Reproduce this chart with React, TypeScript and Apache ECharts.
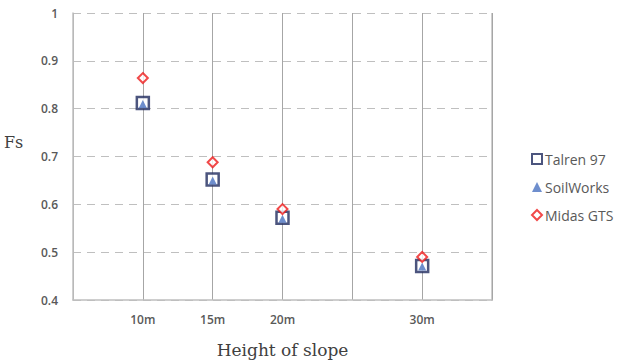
import React, { useEffect, useRef } from "react";
import * as echarts from "echarts";

const heights = [10, 15, 20, 30];
const talren = [0.812, 0.652, 0.572, 0.471];
const soilworks = [0.81, 0.65, 0.57, 0.47];
const midas = [0.864, 0.688, 0.59, 0.49];
const seriesNames = ["Talren 97", "SoilWorks", "Midas GTS"];

export default function App() {
  const ref = useRef<HTMLDivElement>(null);
  useEffect(() => {
    if (!ref.current) return;
    const chart = echarts.init(ref.current, null, { renderer: "svg" });
    const pts = (vals: number[]) => heights.map((h, i) => [h, vals[i]]);
    chart.setOption({
      animation: false,
      grid: { left: 73, right: 126, top: 13, bottom: 62 },
      xAxis: {
        type: "value",
        min: 5,
        max: 35,
        interval: 5,
        axisLine: { show: true, lineStyle: { color: "#bfbfbf", width: 1.5 } },
        axisTick: { show: false },
        splitLine: { show: true, lineStyle: { color: "#a6a6a6", type: "solid", width: 1 } },
        axisLabel: {
          formatter: (v: number) => (heights.includes(v) ? v + "m" : ""),
          color: "#595959",
          fontFamily: "Open Sans",
          fontWeight: 600,
          fontSize: 12,
          margin: 13,
        },
        name: "Height of slope",
        nameLocation: "middle",
        nameGap: 41,
        nameTextStyle: { fontFamily: "DejaVu Serif", fontSize: 17, color: "#404040" },
      },
      yAxis: {
        type: "value",
        min: 0.4,
        max: 1,
        interval: 0.1,
        axisLine: { show: true, lineStyle: { color: "#bfbfbf", width: 1.5 } },
        axisTick: { show: false },
        splitLine: { show: true, lineStyle: { color: "#bfbfbf", type: [8, 6], width: 1.2 } },
        axisLabel: {
          formatter: (v: number) => String(Math.round(v * 10) / 10),
          color: "#595959",
          fontFamily: "Open Sans",
          fontWeight: 600,
          fontSize: 12,
          margin: 15,
        },
      },
      legend: {
        orient: "vertical",
        left: 526,
        top: 147,
        itemGap: 14,
        itemWidth: 10,
        itemHeight: 10,
        textStyle: { color: "#595959", fontFamily: "Open Sans", fontSize: 14, padding: [0, 0, 0, -2] },
        data: seriesNames,
      },
      graphic: [
        {
          type: "line",
          shape: { x1: 492, y1: 13, x2: 492, y2: 301 },
          style: { stroke: "#bfbfbf", lineWidth: 1.5 },
        },
        {
          type: "text",
          x: 4,
          y: 134,
          style: { text: "Fs", fontFamily: "DejaVu Serif", fontSize: 16, fill: "#404040" },
        },
      ],
      series: [
        {
          name: seriesNames[0],
          type: "scatter",
          symbol: "rect",
          symbolSize: 12,
          itemStyle: { color: "#ffffff", borderColor: "#1f2a5e", borderWidth: 2.5 },
          data: pts(talren),
          z: 2,
        },
        {
          name: seriesNames[1],
          type: "scatter",
          symbol: "triangle",
          symbolSize: 8,
          itemStyle: { color: "#4a72c0" },
          data: pts(soilworks),
          z: 3,
        },
        {
          name: seriesNames[2],
          type: "scatter",
          symbol: "diamond",
          symbolSize: 10,
          itemStyle: { color: "#ffffff", borderColor: "#ee1c1c", borderWidth: 2 },
          data: pts(midas),
          z: 4,
        },
      ],
    });
    return () => chart.dispose();
  }, []);
  return <div ref={ref} style={{ width: 618, height: 363, position: "absolute", left: 0, top: 0 }} />;
}
